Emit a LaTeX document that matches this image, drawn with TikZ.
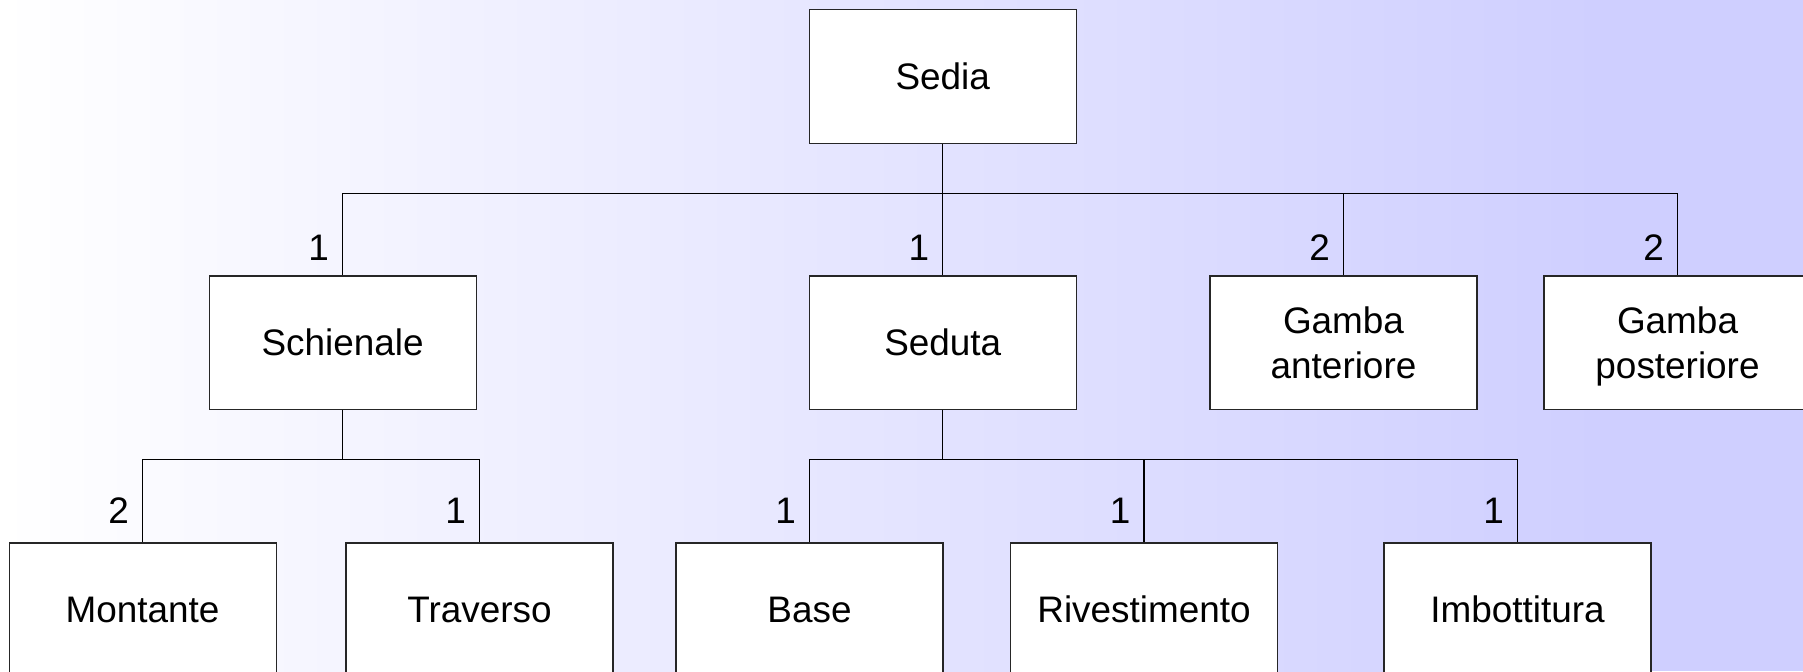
\documentclass[tikz,border=0pt]{standalone}
\usepackage{fontspec}
\setmainfont{Liberation Sans}
\usepackage{tikz}
\usetikzlibrary{positioning,calc}
\definecolor{bgblue}{RGB}{207,207,255}
\tikzset{
	part/.style={draw=black!85, fill=white, line width=0.6pt, minimum width=5.34cm, minimum height=2.67cm, align=center, font=\fontsize{21}{25.5}\selectfont},
	qty/.style={left, inner sep=7.5pt, font=\fontsize{21}{24}\selectfont},
	link/.style={line width=0.6pt, black}
}

\begin{document}
\begin{tikzpicture}
	\useasboundingbox (0,0) rectangle (36.06,-13.42);
	\shade[left color=white, right color=bgblue] (0,0) rectangle (32,-13.42);
	\fill[bgblue] (32,0) rectangle (36.06,-13.42);

	\begin{scope}
	\clip (0,0) rectangle (36.06,-13.42);
	\node[part] (sedia) at (18.855,-1.53) {Sedia};
	\node[part] (seduta) at (18.855,-6.855) {Seduta};
	\node[part] (schienale) at (6.852,-6.855) {Schienale};
	\node[part] (anteriore) at (26.87,-6.855) {Gamba\\anteriore};
	\node[part] (posteriore) at (33.55,-6.855) {Gamba\\\smash{posteriore}};
	\node[part] (montante) at (2.852,-12.195) {Montante};
	\node[part] (traverso) at (9.59,-12.195) {Traverso};
	\node[part] (base) at (16.19,-12.195) {Base};
	\node[part] (rivestimento) at (22.88,-12.195) {Rivestimento};
	\node[part] (imbottitura) at (30.35,-12.195) {Imbottitura};
	\end{scope}

	\coordinate (bus1) at ($(sedia.south)+(0,-0.985)$);
	\coordinate (bus2) at ($(schienale.south)+(0,-0.99)$);
	\coordinate (bus3) at ($(seduta.south)+(0,-0.99)$);

	\draw[link] (sedia.south) -- (bus1);
	\draw[link] (bus1) -| node[qty, pos=0.83] {1} (schienale.north);
	\draw[link] (bus1) -- node[qty, pos=0.66] {1} (seduta.north);
	\draw[link] (bus1) -| node[qty, pos=0.83] {2} (anteriore.north);
	\draw[link] (bus1) -| node[qty, pos=0.83] {2} (posteriore.north);

	\draw[link] (schienale.south) -- (bus2);
	\draw[link] (bus2) -| node[qty, pos=0.81] {2} (montante.north);
	\draw[link] (bus2) -| node[qty, pos=0.81] {1} (traverso.north);

	\draw[link] (seduta.south) -- (bus3);
	\draw[link] (bus3) -| node[qty, pos=0.81] {1} (base.north);
	\draw[link] (bus3) -| node[qty, pos=0.81] {1} (rivestimento.north);
	\draw[link] (bus3) -| node[qty, pos=0.81] {1} (imbottitura.north);
\end{tikzpicture}
\end{document}
